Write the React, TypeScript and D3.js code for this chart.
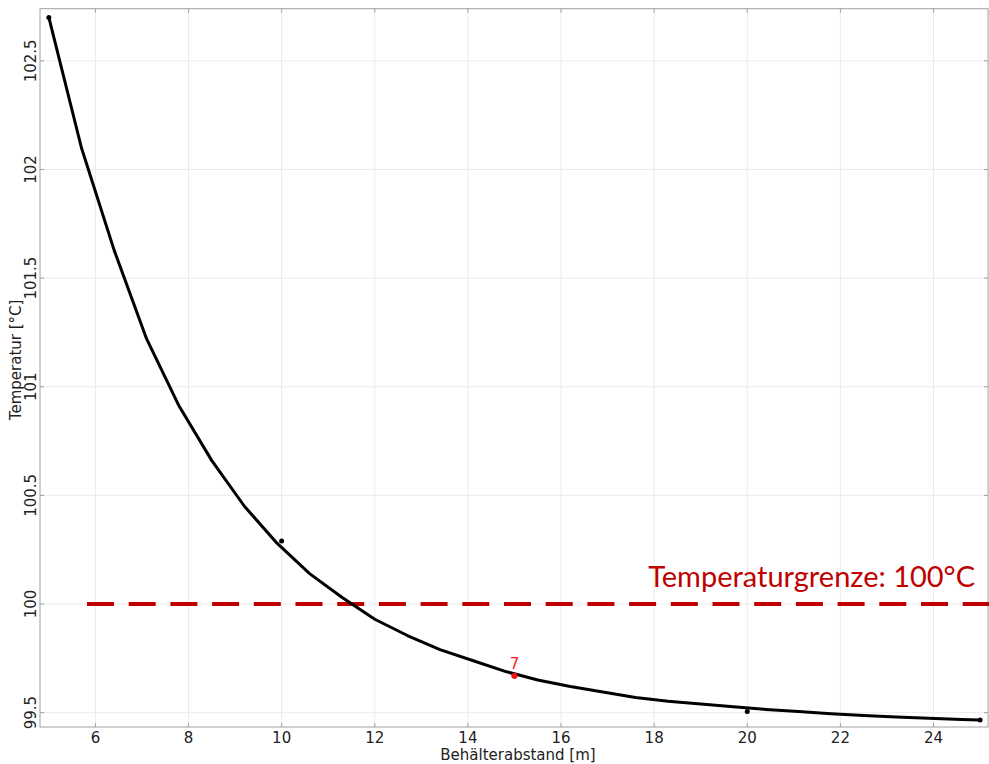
import * as d3 from "d3";
import {useEffect, useRef} from "react";

const distance = [5, 5.7, 6.4, 7.1, 7.8, 8.5, 9.2, 9.9, 10.6, 11.3, 12, 12.7, 13.4, 14.1, 14.8, 15.5, 16.2, 16.9, 17.6, 18.3, 19, 19.7, 20.4, 21.1, 21.8, 22.5, 23.2, 23.9, 24.6, 25]
const temperature = [102.70, 102.10, 101.63, 101.22, 100.91, 100.66, 100.45, 100.28, 100.14, 100.03, 99.93, 99.855, 99.79, 99.74, 99.69, 99.65, 99.62, 99.595, 99.57, 99.553, 99.54, 99.527, 99.515, 99.505, 99.495, 99.487, 99.48, 99.474, 99.469, 99.466]

const markerX = [5, 10, 20, 25]
const markerT = [102.70, 100.29, 99.505, 99.466]

const highlightX = 15
const highlightT = 99.67
const highlightLabel = "7"

const xTicks = [6, 8, 10, 12, 14, 16, 18, 20, 22, 24]
const yTicks = [99.5, 100, 100.5, 101, 101.5, 102, 102.5]

const limit = 100
const limitLabel = "Temperaturgrenze: 100°C"

const W = 989, H = 764
const left = 40, right = 988, top = 8.7, bottom = 727

const App = () => {
    const ref = useRef<SVGSVGElement>(null);

    useEffect(() => {
        const svg = d3.select(ref.current);
        svg.selectAll("*").remove();

        const x = d3.scaleLinear().domain([4.81, 25.17]).range([left, right])
        const y = d3.scaleLinear().domain([99.434, 102.74]).range([bottom, top])
        const font = "'DejaVu Sans', Verdana, sans-serif"

        // grid
        svg.append("g").selectAll("line").data(xTicks).enter().append("line")
            .attr("x1", d => x(d)).attr("x2", d => x(d))
            .attr("y1", top).attr("y2", bottom)
            .attr("stroke", "#ebebeb").attr("stroke-width", 1)
        svg.append("g").selectAll("line").data(yTicks).enter().append("line")
            .attr("x1", left).attr("x2", right)
            .attr("y1", d => y(d)).attr("y2", d => y(d))
            .attr("stroke", "#ebebeb").attr("stroke-width", 1)

        // frame
        svg.append("rect")
            .attr("x", left).attr("y", top)
            .attr("width", right - left).attr("height", bottom - top)
            .attr("fill", "none").attr("stroke", "#a0a0a0").attr("stroke-width", 1)

        // inward ticks on all sides
        const tk = 4
        const tg = svg.append("g").attr("stroke", "#a0a0a0").attr("stroke-width", 1)
        xTicks.forEach(t => {
            tg.append("line").attr("x1", x(t)).attr("x2", x(t)).attr("y1", bottom).attr("y2", bottom - tk)
            tg.append("line").attr("x1", x(t)).attr("x2", x(t)).attr("y1", top).attr("y2", top + tk)
        })
        yTicks.forEach(t => {
            tg.append("line").attr("x1", left).attr("x2", left + tk).attr("y1", y(t)).attr("y2", y(t))
            tg.append("line").attr("x1", right).attr("x2", right - tk).attr("y1", y(t)).attr("y2", y(t))
        })

        // tick labels
        svg.append("g").selectAll("text").data(xTicks).enter().append("text")
            .attr("x", d => x(d)).attr("y", 743)
            .attr("text-anchor", "middle")
            .style("font-family", font).style("font-size", "15px").attr("fill", "#222")
            .text(d => d)
        svg.append("g").selectAll("text").data(yTicks).enter().append("text")
            .attr("transform", d => "translate(36," + y(d) + ") rotate(-90)")
            .attr("text-anchor", "middle")
            .style("font-family", font).style("font-size", "15px").attr("fill", "#222")
            .text(d => d)

        // axis titles
        svg.append("text")
            .attr("x", 518).attr("y", 760)
            .attr("text-anchor", "middle")
            .style("font-family", font).style("font-size", "15px").attr("fill", "#222")
            .text("Behälterabstand [m]")
        svg.append("text")
            .attr("transform", "translate(21," + ((top + bottom) / 2 - 8) + ") rotate(-90)")
            .attr("text-anchor", "middle")
            .style("font-family", font).style("font-size", "15px").attr("fill", "#222")
            .text("Temperatur [°C]")

        // limit line
        svg.append("line")
            .attr("x1", 87).attr("x2", W)
            .attr("y1", y(limit)).attr("y2", y(limit))
            .attr("stroke", "#c00000").attr("stroke-width", 4)
            .attr("stroke-dasharray", "27,14.7")
        svg.append("text")
            .attr("x", 975).attr("y", 587)
            .attr("text-anchor", "end")
            .style("font-family", "Lato, 'Open Sans', sans-serif").style("font-size", "29px")
            .attr("fill", "#c00000")
            .text(limitLabel)

        // curve
        const line = d3.line<number>()
            .x((d, i) => x(distance[i]))
            .y(d => y(d))
        svg.append("path")
            .attr("d", line(temperature))
            .attr("fill", "none").attr("stroke", "#000").attr("stroke-width", 3)
            .attr("stroke-linejoin", "round")

        // markers
        svg.append("g").selectAll("circle").data(markerT).enter().append("circle")
            .attr("cx", (d, i) => x(markerX[i])).attr("cy", d => y(d))
            .attr("r", 2.5).attr("fill", "#000")

        svg.append("circle")
            .attr("cx", x(highlightX)).attr("cy", y(highlightT))
            .attr("r", 2.8).attr("fill", "#ff1a1a").attr("stroke", "#c00000").attr("stroke-width", 0.8)
        svg.append("text")
            .attr("x", x(highlightX)).attr("y", y(highlightT) - 7)
            .attr("text-anchor", "middle")
            .style("font-family", font).style("font-size", "15px").attr("fill", "#ff2020")
            .text(highlightLabel)
    }, []);

    return (
        <div style={{position: "absolute", left: 0, top: 0}}>
            <svg ref={ref} width={W} height={H} style={{display: "block", background: "#fff"}}></svg>
        </div>
    )
}

export default App;
